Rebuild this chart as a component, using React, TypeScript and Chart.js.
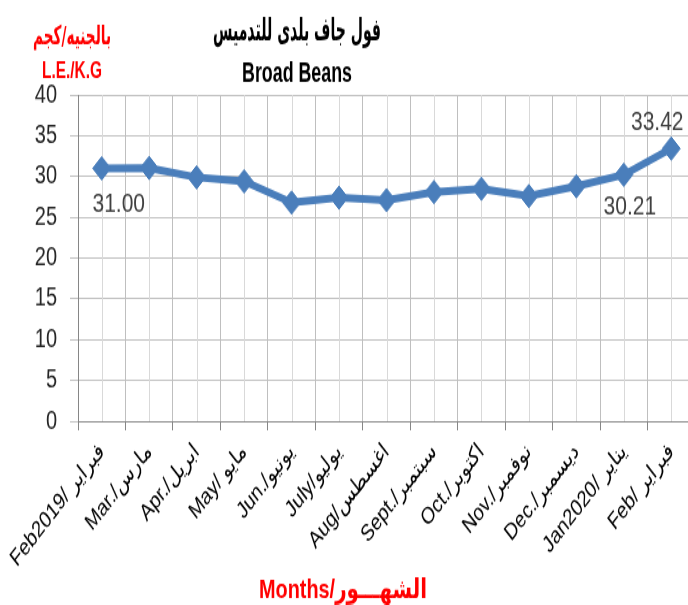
import React, { useEffect, useRef } from "react";
import { Chart, registerables } from "chart.js";

Chart.register(...registerables);

const categories = [
  "Feb2019/ فبراير",
  "Mar./مارس",
  "Apr./ابريل",
  "May/ مايو",
  "Jun./يونيو",
  "July/يوليو",
  "Aug/اغسطس",
  "Sept./سبتمبر",
  "Oct./اكتوبر",
  "Nov./نوفمبر",
  "Dec./ديسمبر",
  "Jan2020/ يناير",
  "Feb/ فبراير",
];

const prices = [31.0, 31.05, 29.9, 29.4, 26.8, 27.4, 27.1, 28.1, 28.5, 27.6, 28.8, 30.21, 33.42];

const yTicks = [0, 5, 10, 15, 20, 25, 30, 35, 40];

const titleArabic = "فول جاف بلدى للتدميس";
const titleEnglish = "Broad Beans";
const unitArabic = "بالجنيه/كجم";
const unitEnglish = "L.E./K.G";
const xTitle = "Months/الشهـــور";

// indices of labelled points: [index, dx, dy]
const labelled: [number, number, number][] = [
  [0, 17, 28],
  [11, 6, 25],
  [12, -14, -20],
];

const SY = 1.3;
const W = 720;
const H = Math.round(605 / SY);

const FONT = "'Liberation Sans', 'DejaVu Sans', sans-serif";

const centerLines = {
  id: "centerLines",
  beforeDatasetsDraw(chart: any) {
    const { ctx, chartArea, scales } = chart;
    const x = scales.x;
    ctx.save();
    ctx.strokeStyle = "#d9d9d9";
    ctx.lineWidth = 1;
    for (let i = 0; i < categories.length; i++) {
      const px = Math.round(x.getPixelForValue(i)) + 0.5;
      ctx.beginPath();
      ctx.moveTo(px, chartArea.top);
      ctx.lineTo(px, chartArea.bottom);
      ctx.stroke();
    }
    ctx.restore();
  },
};

function fitText(ctx: any, text: string, x: number, y: number, width: number) {
  const w = ctx.measureText(text).width;
  const k = Math.min(1, width / w);
  ctx.save();
  ctx.translate(x, y);
  ctx.scale(k, 1);
  ctx.fillText(text, 0, 0);
  ctx.restore();
}

const texts = {
  id: "texts",
  afterDraw(chart: any) {
    const { ctx, chartArea } = chart;
    ctx.save();
    ctx.textAlign = "center";
    ctx.textBaseline = "middle";
    // data labels
    const meta = chart.getDatasetMeta(0);
    ctx.fillStyle = "#404040";
    ctx.font = `21px ${FONT}`;
    labelled.forEach(([i, dx, dy]) => {
      const el = meta.data[i];
      ctx.fillText(prices[i].toFixed(2), el.x + dx, el.y + dy);
    });
    // headers
    const cx = chartArea.left + 219;
    ctx.fillStyle = "#000000";
    ctx.font = `bold 24px 'DejaVu Sans', sans-serif`;
    fitText(ctx, titleArabic, cx, 25, 168);
    ctx.font = `bold 22px ${FONT}`;
    fitText(ctx, titleEnglish, cx, 57, 110);
    ctx.fillStyle = "#ff0000";
    ctx.font = `bold 20px 'DejaVu Sans', sans-serif`;
    fitText(ctx, unitArabic, 72, 29, 78);
    ctx.font = `bold 18px ${FONT}`;
    fitText(ctx, unitEnglish, 72, 55, 60);
    ctx.font = `bold 21px ${FONT}`;
    fitText(ctx, xTitle, chartArea.left + 265, H - 11, 168);
    ctx.restore();
  },
};

export default function App() {
  const ref = useRef<HTMLCanvasElement>(null);
  useEffect(() => {
    const chart = new Chart(ref.current!, {
      type: "line",
      data: {
        labels: categories,
        datasets: [
          {
            data: prices,
            borderColor: "#4a7ebb",
            backgroundColor: "#4a7ebb",
            borderWidth: 6,
            pointStyle: "rectRot",
            pointRadius: 9,
            pointBorderWidth: 1,
            pointBackgroundColor: "#4a7ebb",
            pointBorderColor: "#4a7ebb",
            tension: 0,
          },
        ],
      },
      options: {
        responsive: false,
        animation: false,
        layout: { padding: { top: 73, right: 25, left: 0, bottom: 0 } },
        plugins: { legend: { display: false }, tooltip: { enabled: false } },
        scales: {
          x: {
            type: "category",
            offset: true,
            grid: { offset: true, color: "#bfbfbf", tickLength: 7, tickColor: "#868686" },
            border: { color: "#868686" },
            ticks: {
              minRotation: 45,
              maxRotation: 45,
              autoSkip: false,
              padding: 6,
              color: "#000000",
              font: { family: FONT, size: 18 },
            },
            afterFit(scale: any) {
              scale.height = H - 324;
            },
          },
          y: {
            min: 0,
            max: 40,
            afterBuildTicks(scale: any) {
              scale.ticks = yTicks.map((v) => ({ value: v }));
            },
            grid: { color: "#bfbfbf", tickLength: 8, tickColor: "#bfbfbf" },
            border: { color: "#868686" },
            ticks: {
              padding: 13,
              color: "#262626",
              font: { family: FONT, size: 20 },
            },
            afterFit(scale: any) {
              scale.width = 78;
            },
          },
        },
      },
      plugins: [centerLines, texts],
    });
    return () => chart.destroy();
  }, []);
  return (
    <div
      style={{
        position: "fixed",
        left: 0,
        top: 0,
        width: 688,
        height: 605,
        overflow: "hidden",
        background: "#fff",
      }}
    >
      <div style={{ transform: `scale(1, ${SY})`, transformOrigin: "0 0", width: W, height: H }}>
        <canvas ref={ref} width={W} height={H} style={{ width: W, height: H, display: "block" }} />
      </div>
    </div>
  );
}
